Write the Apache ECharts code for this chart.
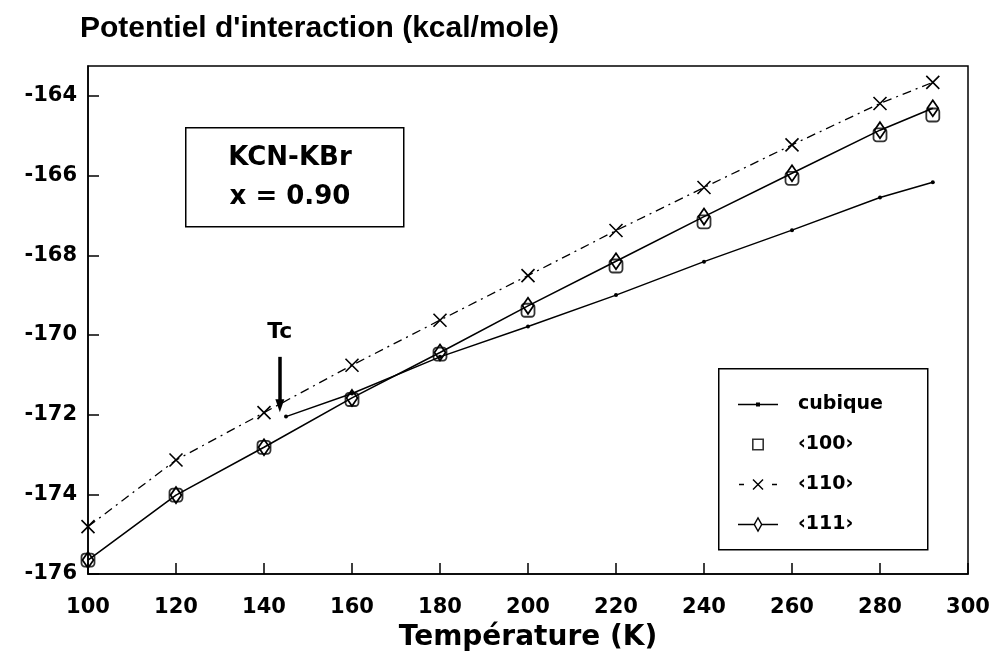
<!DOCTYPE html>
<html>
<head>
<meta charset="utf-8">
<script src="https://cdn.jsdelivr.net/npm/echarts@6/dist/echarts.min.js"></script>
<style>
html,body{margin:0;padding:0;background:#fff;}
#chart{width:995px;height:659px;}
</style>
</head>
<body>
<div id="chart"></div>
<script>
// Temperature (K) values
const temps = [100, 120, 140, 160, 180, 200, 220, 240, 260, 280, 292];
// <100> orientation (squares)
const v100 = [-175.65, -174.02, -172.82, -171.62, -170.48, -169.38, -168.27, -167.16, -166.07, -164.98, -164.48];
// <110> orientation (crosses, dash-dot line)
const v110 = [-174.81, -173.14, -171.95, -170.76, -169.63, -168.51, -167.38, -166.30, -165.23, -164.19, -163.66];
// <111> orientation (diamonds, solid line)
const v111 = [-175.65, -174.02, -172.82, -171.58, -170.44, -169.27, -168.15, -167.03, -165.94, -164.86, -164.31];
// cubic phase (above Tc)
const cubTemps = [145, 160, 180, 200, 220, 240, 260, 280, 292];
const vCub = [-172.05, -171.47, -170.55, -169.79, -169.00, -168.16, -167.37, -166.55, -166.17];
// axis ticks
const xTicks = [100, 120, 140, 160, 180, 200, 220, 240, 260, 280, 300];
const yTicks = [-176, -174, -172, -170, -168, -166, -164];
// Tc annotation
const tcT = 143.6;
const tcFrom = -170.55;
const tcTo = -171.78;

const names = ['cubique', '\u2039100\u203A', '\u2039110\u203A', '\u2039111\u203A'];

const pair = (xs, ys) => xs.map((x, i) => [x, ys[i]]);
const FONT = 'DejaVu Sans';

const chart = echarts.init(document.getElementById('chart'), null, {renderer: 'canvas'});

const iconCub = 'path://M0,0M55,16M0,7.2h40v1.6h-40zM18,6h4v4h-4z';
const icon100 = 'path://M0,0M55,16M14,2h12v12h-12zM15.6,3.6v8.8h8.8v-8.8z';
const icon110 = 'path://M0,0M55,16M1,7.2h5v1.6h-5zM34,7.2h5v1.6h-5zM14.5,3.5L15.5,2.5L25.5,12.5L24.5,13.5ZM24.5,2.5L25.5,3.5L15.5,13.5L14.5,12.5Z';
const icon111 = 'path://M0,0M55,16M0,7.2h15.8v1.6h-15.8zM24.2,7.2h15.8v1.6h-15.8zM20,0L24.5,8L20,16L15.5,8ZM20,2.8L17.1,8L20,13.2L22.9,8Z';

const option = {
  backgroundColor: '#fff',
  animation: false,
  title: {
    text: "Potentiel d'interaction (kcal/mole)",
    left: 80, top: 14, padding: 0,
    textStyle: {fontFamily: 'Liberation Sans', fontWeight: 'bold', fontSize: 30, color: '#000'}
  },
  grid: {
    left: 88, right: 27, top: 66, bottom: 85,
    show: true, borderColor: '#000', borderWidth: 1.5, backgroundColor: 'transparent'
  },
  legend: {
    orient: 'vertical', left: 738, top: 395,
    itemWidth: 55, itemHeight: 16, itemGap: 21, padding: 0,
    selectedMode: false,
    textStyle: {fontFamily: FONT, fontWeight: 'bold', fontSize: 19, color: '#000', lineHeight: 16},
    data: [
      {name: names[0], icon: iconCub, itemStyle: {color: '#000', borderWidth: 0}},
      {name: names[1], icon: icon100, itemStyle: {color: '#000', borderWidth: 0}},
      {name: names[2], icon: icon110, itemStyle: {color: '#000', borderWidth: 0}},
      {name: names[3], icon: icon111, itemStyle: {color: '#000', borderWidth: 0}}
    ]
  },
  xAxis: {
    type: 'value', min: 100, max: 300, interval: 20,
    name: 'Température (K)', nameLocation: 'middle', nameGap: 50,
    nameTextStyle: {fontFamily: FONT, fontWeight: 'bold', fontSize: 28, color: '#000'},
    axisLine: {show: true, onZero: false, lineStyle: {color: '#000', width: 1.5}},
    axisTick: {show: true, inside: true, length: 11, lineStyle: {color: '#000', width: 1.5}},
    splitLine: {show: false},
    axisLabel: {
      margin: 23, color: '#000', fontFamily: FONT, fontWeight: 'bold', fontSize: 21,
      formatter: v => (xTicks.indexOf(v) >= 0 ? String(v) : '')
    }
  },
  yAxis: {
    type: 'value', min: -176, max: -163.25, interval: 2,
    axisLine: {show: true, onZero: false, lineStyle: {color: '#000', width: 1.5}},
    axisTick: {show: true, inside: true, length: 11, lineStyle: {color: '#000', width: 1.5}},
    splitLine: {show: false},
    axisLabel: {
      margin: 11, color: '#000', fontFamily: FONT, fontWeight: 'bold', fontSize: 21,
      showMaxLabel: false,
      formatter: v => (yTicks.indexOf(v) >= 0 ? String(v) : '')
    }
  },
  series: [
    {
      name: names[0], type: 'line', data: pair(cubTemps, vCub),
      symbol: 'circle', symbolSize: 4, showSymbol: true,
      lineStyle: {color: '#000', width: 1.5},
      itemStyle: {color: '#000'},
      z: 3,
      markLine: {
        silent: true, animation: false,
        symbol: ['none', 'triangle'], symbolSize: 12,
        lineStyle: {color: '#000', width: 3.5, type: 'solid'},
        label: {
          show: true, position: 'start', formatter: 'Tc', distance: 14,
          color: '#000', fontFamily: FONT, fontWeight: 'bold', fontSize: 22
        },
        data: [[{coord: [tcT, tcFrom]}, {coord: [tcT, tcTo], symbol: 'triangle', symbolSize: [9, 13]}]]
      }
    },
    {
      name: names[1], type: 'scatter', data: pair(temps, v100),
      symbol: 'roundRect', symbolSize: 13,
      itemStyle: {color: 'transparent', borderColor: '#000', borderWidth: 1.8},
      z: 4
    },
    {
      name: names[2], type: 'line', data: pair(temps, v110),
      symbol: 'path://M0,0L10,10M10,0L0,10', symbolSize: 13, showSymbol: true,
      lineStyle: {color: '#000', width: 1.3, type: [9, 5, 2, 5]},
      itemStyle: {color: 'none', borderColor: '#000', borderWidth: 1.6},
      z: 3
    },
    {
      name: names[3], type: 'line', data: pair(temps, v111),
      symbol: 'diamond', symbolSize: [11, 16], showSymbol: true,
      lineStyle: {color: '#000', width: 1.6},
      itemStyle: {color: 'transparent', borderColor: '#000', borderWidth: 1.8},
      z: 4
    }
  ],
  graphic: [
    {
      type: 'rect', left: 185, top: 127, z: 10,
      shape: {width: 218, height: 99},
      style: {fill: '#fff', stroke: '#000', lineWidth: 1.5}
    },
    {
      type: 'text', x: 290, y: 158.5, z: 11,
      style: {text: 'KCN-KBr', fill: '#000', font: 'bold 26px "DejaVu Sans"', align: 'center', verticalAlign: 'middle'}
    },
    {
      type: 'text', x: 290, y: 197.5, z: 11,
      style: {text: 'x = 0.90', fill: '#000', font: 'bold 26px "DejaVu Sans"', align: 'center', verticalAlign: 'middle'}
    },
    {
      type: 'rect', left: 718, top: 368, z: 1,
      shape: {width: 209, height: 181},
      style: {fill: '#fff', stroke: '#000', lineWidth: 1.5}
    }
  ]
};
chart.setOption(option);
</script>
</body>
</html>
